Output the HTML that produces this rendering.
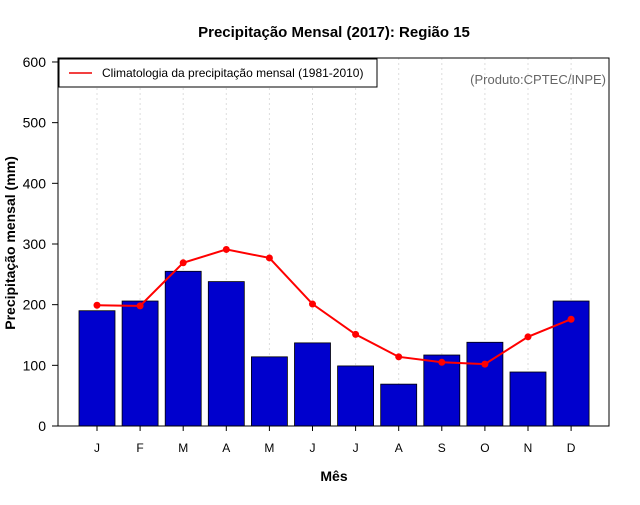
<!DOCTYPE html>
<html><head><meta charset="utf-8"><style>
body{margin:0;background:#fff}
svg text{font-family:"Liberation Sans",sans-serif}
</style></head><body>
<svg id="chart" width="640" height="500" xmlns="http://www.w3.org/2000/svg">
<rect width="640" height="500" fill="#fff"/>
<text x="334" y="37" text-anchor="middle" font-size="15" font-weight="bold">Precipitação Mensal (2017): Região 15</text>
<text x="334" y="481" text-anchor="middle" font-size="14" font-weight="bold">Mês</text>
<text transform="translate(15,243) rotate(-90)" text-anchor="middle" font-size="14" font-weight="bold">Precipitação mensal (mm)</text>
<g id="grid"></g>
<g id="bars"></g>
<g id="line"></g>
<g id="axes"></g>
<rect x="58" y="58" width="551" height="368" fill="none" stroke="#000"/>
<g>
<rect x="59" y="59" width="318" height="28" fill="#fff" stroke="#000"/>
<line x1="69" y1="73" x2="92" y2="73" stroke="#e00" stroke-width="1.5"/>
<text x="102" y="77" font-size="12">Climatologia da precipitação mensal (1981-2010)</text>
</g>
<text x="606" y="84" text-anchor="end" font-size="13" fill="#666">(Produto:CPTEC/INPE)</text>
</svg>
<script>
const months=["J","F","M","A","M","J","J","A","S","O","N","D"];
const observed=[190,206,255,238,114,137,99,69,117,138,89,206];
const climatology=[199,198,269,291,277,201,151,114,105,102,147,176];
const yTicks=[0,100,200,300,400,500,600];
const NS="http://www.w3.org/2000/svg";
function y(v){return 426-v*0.6067;}
function x(i){return 97+i*43.1;}
function mk(tag,attrs,parent,text){const e=document.createElementNS(NS,tag);for(const k in attrs)e.setAttribute(k,attrs[k]);if(text!==undefined)e.textContent=text;document.getElementById(parent).appendChild(e);return e;}
months.forEach((m,i)=>{
 const g=mk("line",{x1:x(i),x2:x(i),y1:58,y2:426,stroke:"#ddd","stroke-dasharray":"2,3"},"grid");
 
 
 const b=mk("rect",{x:x(i)-18,y:y(observed[i]),width:36,height:y(0)-y(observed[i]),fill:"#0000cd",stroke:"#000","stroke-width":0.8},"bars");
 
 
 const t=mk("line",{x1:x(i),x2:x(i),y1:426,y2:431,stroke:"#000"},"axes");
 
 
 const l=mk("text",{x:x(i),y:452,"text-anchor":"middle","font-size":12},"axes",m);
 
 
});
const pts=climatology.map((v,i)=>x(i)+","+y(v)).join(" ");
const pl=mk("polyline",{points:pts,fill:"none",stroke:"#f00","stroke-width":2},"line");


climatology.forEach((v,i)=>{
 const c=mk("circle",{cx:x(i),cy:y(v),r:3.5,fill:"#f00"},"line");
 
 
});
yTicks.forEach(v=>{
 const t=mk("line",{x1:52,x2:58,y1:y(v),y2:y(v),stroke:"#000"},"axes");
 
 
 const l=mk("text",{x:46,y:y(v)+5,"text-anchor":"end","font-size":14},"axes",v);
 
 
});
</script>
</body></html>
